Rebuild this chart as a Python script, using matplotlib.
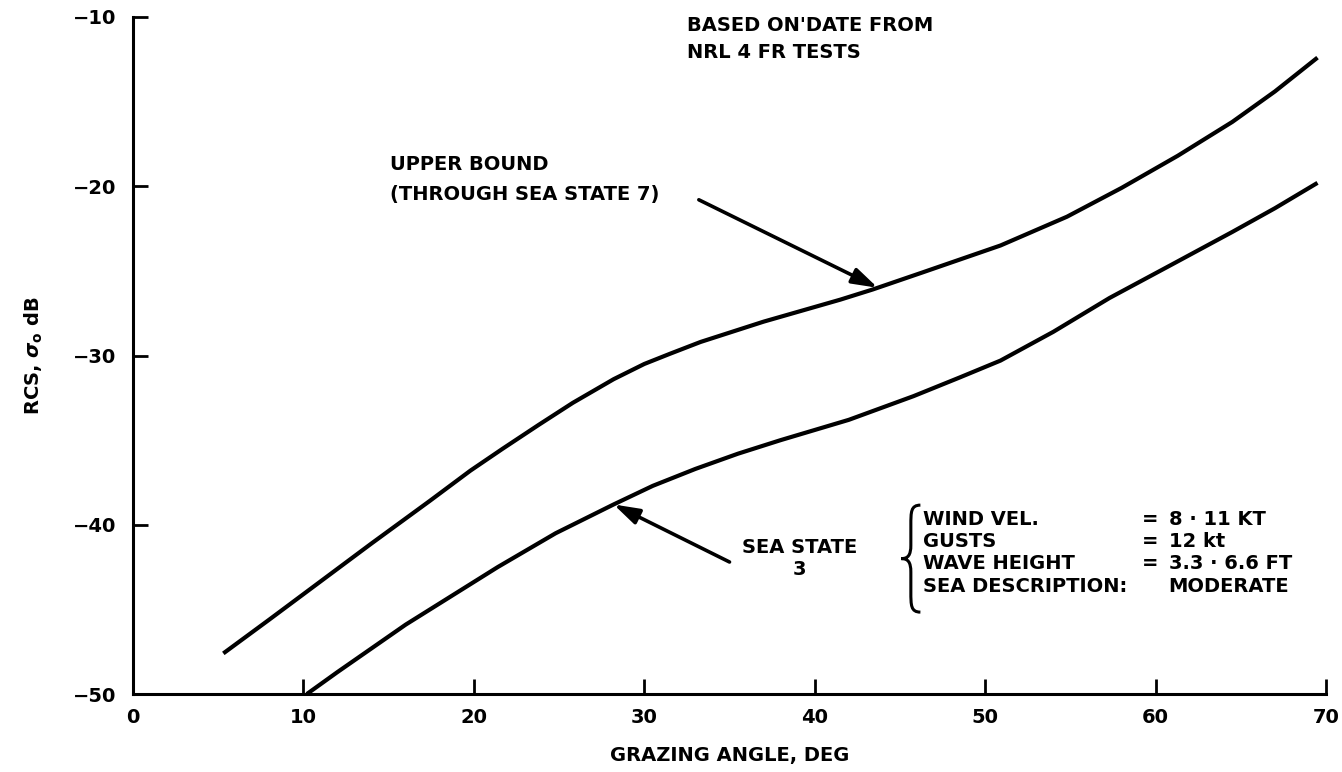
import matplotlib
matplotlib.use("Agg")
import matplotlib.pyplot as plt
from matplotlib.path import Path
from matplotlib.patches import PathPatch

plt.rcParams['font.family'] = ['DejaVu Sans']
plt.rcParams['font.weight'] = 'bold'
plt.rcParams['mathtext.fontset'] = 'dejavusans'

# ---- data ----
upper_x = [5.3, 8.0, 11.2, 14.0, 17.4, 19.8, 21.7, 23.8, 25.8, 28.2, 30.0, 31.5,
           33.3, 37.0, 41.5, 43.4, 46.3, 50.9, 54.8, 58.0, 61.3, 64.5, 67.0, 69.5]
upper_y = [-47.6, -45.6, -43.2, -41.1, -38.6, -36.8, -35.5, -34.1, -32.8, -31.4, -30.5, -29.9,
           -29.2, -28.0, -26.7, -26.1, -25.1, -23.5, -21.8, -20.1, -18.2, -16.2, -14.4, -12.4]

lower_x = [10.2, 12.0, 16.0, 21.4, 24.8, 28.2, 30.5, 33.0, 35.5, 38.0, 42.0, 45.8, 48.5, 50.9,
           54.0, 57.3, 61.0, 64.5, 67.0, 69.5]
lower_y = [-50.0, -48.7, -45.9, -42.5, -40.5, -38.8, -37.7, -36.7, -35.8, -35.0, -33.8, -32.4,
           -31.3, -30.3, -28.6, -26.6, -24.6, -22.7, -21.3, -19.8]

x_ticks = [0, 10, 20, 30, 40, 50, 60, 70]
y_ticks = [-50, -40, -30, -20, -10]

info_labels = ["WIND VEL.", "GUSTS", "WAVE HEIGHT", "SEA DESCRIPTION:"]
info_eq = ["=", "=", "=", ""]
info_values = ["8 \u00b7 11 KT", "12 kt", "3.3 \u00b7 6.6 FT", "MODERATE"]

FS = 14

fig = plt.figure(figsize=(13.42, 7.72), dpi=100)
ax = fig.add_axes([0.0991, 0.101, 0.8890, 0.877])

ax.plot(upper_x, upper_y, color='black', lw=3.0, solid_capstyle='butt',
        solid_joinstyle='round')
ax.plot(lower_x, lower_y, color='black', lw=3.0, solid_capstyle='butt',
        solid_joinstyle='round')

ax.set_xlim(0, 70)
ax.set_ylim(-50, -10)
ax.set_xticks(x_ticks)
ax.set_yticks(y_ticks)
ax.tick_params(direction='in', length=11, width=2, labelsize=FS, pad=10)
ax.tick_params(axis='y', pad=12)
for s in ['top', 'right']:
    ax.spines[s].set_visible(False)
for s in ['left', 'bottom']:
    ax.spines[s].set_linewidth(2.2)
for lab in ax.get_xticklabels() + ax.get_yticklabels():
    lab.set_fontweight('bold')

ax.set_xlabel("GRAZING ANGLE, DEG", fontsize=FS, fontweight='bold', labelpad=14)
ax.set_ylabel(r"RCS, $\sigma_{\mathrm{o}}$ dB", fontsize=FS, fontweight='bold', labelpad=20)

# top note
ax.text(32.5, -11.3, "BASED ON'DATE FROM\nNRL 4 FR TESTS", fontsize=FS,
        fontweight='bold', ha='left', va='center', linespacing=1.55)

# upper bound annotation
ax.text(15.1, -19.6, "UPPER BOUND\n(THROUGH SEA STATE 7)", fontsize=FS,
        fontweight='bold', ha='left', va='center', linespacing=1.75)
ax.annotate("", xy=(43.7, -26.0), xytext=(33.2, -20.8),
            arrowprops=dict(arrowstyle='-|>,head_length=0.7,head_width=0.22', lw=2.6,
                            color='black', mutation_scale=22, shrinkA=0, shrinkB=0))

# sea state 3 annotation
ax.text(39.1, -42.0, "SEA STATE\n3", fontsize=FS, fontweight='bold',
        ha='center', va='center', linespacing=1.25)
ax.annotate("", xy=(28.2, -38.8), xytext=(35.0, -42.2),
            arrowprops=dict(arrowstyle='-|>,head_length=0.7,head_width=0.22', lw=2.6,
                            color='black', mutation_scale=22, shrinkA=0, shrinkB=0))

# brace (axes fraction coords)
bx, by0, by1, bw = 0.652, 0.121, 0.279, 0.008
bm = (by0 + by1) / 2
verts = [(bx + bw, by1),
         (bx, by1), (bx, by1 - 0.01), (bx, by1 - 0.03),
         (bx, bm + 0.02),
         (bx, bm + 0.005), (bx - bw * 0.3, bm), (bx - bw, bm),
         (bx - bw * 0.3, bm), (bx, bm - 0.005), (bx, bm - 0.02),
         (bx, by0 + 0.03),
         (bx, by0 + 0.01), (bx, by0), (bx + bw, by0)]
codes = [Path.MOVETO,
         Path.CURVE4, Path.CURVE4, Path.CURVE4,
         Path.LINETO,
         Path.CURVE4, Path.CURVE4, Path.CURVE4,
         Path.CURVE4, Path.CURVE4, Path.CURVE4,
         Path.LINETO,
         Path.CURVE4, Path.CURVE4, Path.CURVE4]
ax.add_patch(PathPatch(Path(verts, codes), transform=ax.transAxes,
                       fill=False, lw=2.2, color='black', clip_on=False))

row_y = [0.2585, 0.226, 0.1935, 0.159]
for lab, eq, val, yy in zip(info_labels, info_eq, info_values, row_y):
    ax.text(0.662, yy, lab, transform=ax.transAxes, fontsize=FS,
            fontweight='bold', ha='left', va='center')
    if eq:
        ax.text(0.846, yy, eq, transform=ax.transAxes, fontsize=FS,
                fontweight='bold', ha='left', va='center')
    ax.text(0.868, yy, val, transform=ax.transAxes, fontsize=FS,
            fontweight='bold', ha='left', va='center')

fig.savefig("out.png", dpi=100)
